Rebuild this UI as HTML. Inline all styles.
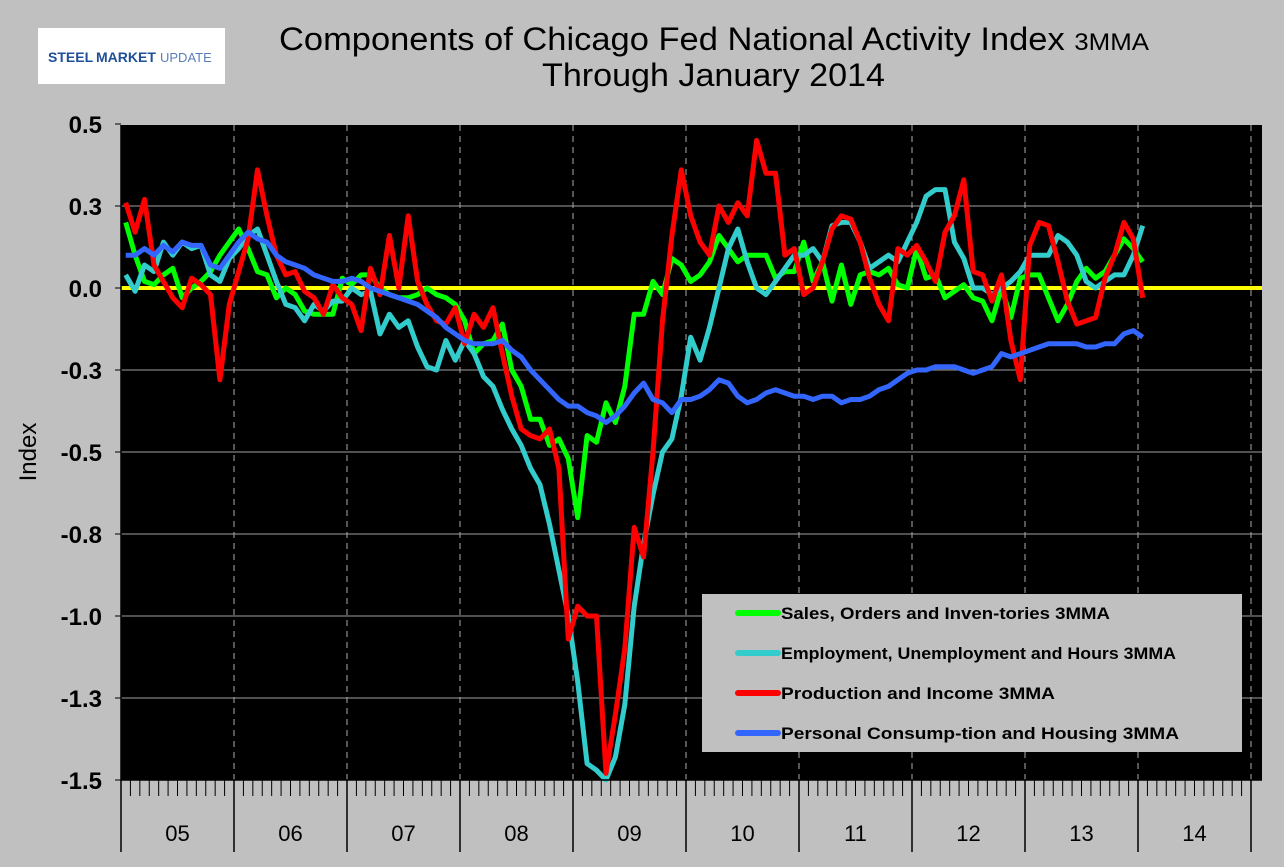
<!DOCTYPE html>
<html><head><meta charset="utf-8"><style>
body{margin:0;background:#c0c0c0;}
svg{display:block;font-family:"Liberation Sans",sans-serif;}
</style></head><body>
<svg id="chart" width="1284" height="867" xmlns="http://www.w3.org/2000/svg">
<rect width="1284" height="867" fill="#c0c0c0"/>
<g>
<rect x="38" y="28" width="187" height="56" fill="#fff"/>
<text x="48" y="62" font-size="14" font-weight="bold" fill="#1f4f9a">STEEL</text>
<text x="96" y="62" font-size="14" font-weight="bold" fill="#1f4f9a">MARKET</text>
<text x="160" y="62" font-size="13" fill="#5a7fb8">UPDATE</text>
</g>
<text x="279" y="50" font-size="32" textLength="870" lengthAdjust="spacingAndGlyphs">Components of Chicago Fed National Activity Index <tspan font-size="24">3MMA</tspan></text>
<text x="542" y="86" font-size="32" textLength="343" lengthAdjust="spacingAndGlyphs">Through January 2014</text>
<rect x="121" y="125" width="1141" height="655" fill="#000"/>
<text transform="translate(36,452) rotate(-90)" text-anchor="middle" font-size="24">Index</text>
<g id="grid"></g><g id="series"></g><g id="axes"></g>
<g>
<rect x="702" y="594" width="540" height="158" fill="#c0c0c0"/>
<g id="legend"></g>
</g>
</svg>
<script>
const years=['05','06','07','08','09','10','11','12','13','14'];
const yTicks=[0.5,0.25,0,-0.25,-0.5,-0.75,-1,-1.25,-1.5];
const yTickLabels=['0.5','0.3','0.0','-0.3','-0.5','-0.8','-1.0','-1.3','-1.5'];
const seriesNames=['Sales, Orders and Inven-tories 3MMA','Employment, Unemployment and Hours 3MMA','Production and Income 3MMA','Personal Consump-tion and Housing 3MMA'];
const sales=[0.20,0.10,0.02,0.01,0.04,0.06,-0.03,0.00,0.02,0.05,0.10,0.14,
0.18,0.12,0.05,0.04,-0.03,0.00,-0.02,-0.07,-0.08,-0.08,-0.08,0.03,
0.01,0.04,0.04,0.00,-0.02,-0.03,-0.03,-0.02,0.00,-0.02,-0.03,-0.05,
-0.10,-0.20,-0.17,-0.16,-0.11,-0.25,-0.30,-0.40,-0.40,-0.48,-0.46,-0.52,
-0.70,-0.45,-0.47,-0.35,-0.41,-0.30,-0.08,-0.08,0.02,-0.02,0.09,0.07,
0.02,0.04,0.08,0.16,0.12,0.08,0.10,0.10,0.10,0.03,0.05,0.05,
0.14,0.02,0.08,-0.04,0.07,-0.05,0.04,0.05,0.04,0.06,0.01,0.00,
0.12,0.03,0.04,-0.03,-0.01,0.01,-0.03,-0.04,-0.10,0.00,-0.09,0.03,
0.04,0.04,-0.03,-0.10,-0.05,0.02,0.06,0.03,0.05,0.10,0.15,0.12,0.08];
const employment=[0.04,-0.01,0.07,0.05,0.14,0.10,0.14,0.12,0.13,0.04,0.02,0.09,
0.12,0.16,0.18,0.10,0.02,-0.05,-0.06,-0.10,-0.05,-0.07,-0.04,-0.04,
0.00,-0.02,-0.01,-0.14,-0.08,-0.12,-0.10,-0.18,-0.24,-0.25,-0.16,-0.22,
-0.16,-0.20,-0.27,-0.30,-0.37,-0.43,-0.48,-0.55,-0.60,-0.72,-0.86,-1.00,
-1.20,-1.45,-1.47,-1.50,-1.43,-1.27,-0.97,-0.78,-0.63,-0.50,-0.46,-0.33,
-0.15,-0.22,-0.12,0.00,0.12,0.18,0.08,0.00,-0.02,0.02,0.06,0.10,
0.10,0.12,0.08,0.19,0.20,0.20,0.14,0.06,0.08,0.10,0.08,0.14,
0.20,0.28,0.30,0.30,0.14,0.09,0.00,0.00,-0.02,0.00,0.02,0.05,
0.10,0.10,0.10,0.16,0.14,0.10,0.02,0.00,0.02,0.04,0.04,0.10,0.19];
const production=[0.26,0.17,0.27,0.07,0.02,-0.03,-0.06,0.03,0.01,-0.02,-0.28,-0.05,
0.05,0.15,0.36,0.22,0.10,0.04,0.05,-0.01,-0.03,-0.08,0.01,-0.03,
-0.05,-0.13,0.06,-0.02,0.16,0.00,0.22,0.02,-0.05,-0.10,-0.11,-0.06,
-0.17,-0.08,-0.12,-0.06,-0.20,-0.33,-0.43,-0.45,-0.46,-0.43,-0.55,-1.07,
-0.97,-1.00,-1.00,-1.48,-1.30,-1.10,-0.73,-0.82,-0.50,-0.10,0.16,0.36,
0.22,0.14,0.10,0.25,0.20,0.26,0.22,0.45,0.35,0.35,0.10,0.12,
-0.02,0.00,0.08,0.18,0.22,0.21,0.14,0.03,-0.05,-0.10,0.12,0.10,
0.13,0.08,0.02,0.17,0.22,0.33,0.05,0.04,-0.04,0.04,-0.16,-0.28,
0.13,0.20,0.19,0.08,-0.04,-0.11,-0.10,-0.09,0.03,0.10,0.20,0.15,-0.03];
const consumption=[0.10,0.10,0.12,0.10,0.13,0.11,0.14,0.13,0.13,0.07,0.06,0.10,
0.14,0.17,0.15,0.14,0.10,0.08,0.07,0.06,0.04,0.03,0.02,0.02,
0.03,0.02,0.00,-0.01,-0.02,-0.03,-0.04,-0.05,-0.07,-0.09,-0.12,-0.14,
-0.16,-0.17,-0.17,-0.17,-0.16,-0.19,-0.21,-0.25,-0.28,-0.31,-0.34,-0.36,
-0.36,-0.38,-0.39,-0.41,-0.39,-0.36,-0.32,-0.29,-0.34,-0.35,-0.38,-0.34,
-0.34,-0.33,-0.31,-0.28,-0.29,-0.33,-0.35,-0.34,-0.32,-0.31,-0.32,-0.33,
-0.33,-0.34,-0.33,-0.33,-0.35,-0.34,-0.34,-0.33,-0.31,-0.30,-0.28,-0.26,
-0.25,-0.25,-0.24,-0.24,-0.24,-0.25,-0.26,-0.25,-0.24,-0.20,-0.21,-0.20,
-0.19,-0.18,-0.17,-0.17,-0.17,-0.17,-0.18,-0.18,-0.17,-0.17,-0.14,-0.13,-0.15];
const colors=['#00ff00','#33cccc','#ff0000','#3366ff'];
const NS='http://www.w3.org/2000/svg';
const X0=121,YW=113,Y0=288,PU=328;
function xPos(i){return X0+(i+0.5)*YW/12;}
function yPos(v){return Y0-v*PU;}
function mk(tag,attrs,parent){const e=document.createElementNS(NS,tag);for(const k in attrs)e.setAttribute(k,attrs[k]);parent.appendChild(e);return e;}
const grid=document.getElementById('grid'),axes=document.getElementById('axes'),sg=document.getElementById('series'),lg=document.getElementById('legend');
yTicks.forEach((t,k)=>{const y=yPos(t);
 if(t!==0&&k>0&&k<yTicks.length-1){const l=mk('line',{x1:X0,x2:1262,y1:y,y2:y,stroke:'#a0a0a0','stroke-width':1},grid);
 
 }
 const tk=mk('line',{x1:X0-6,x2:X0,y1:y,y2:y,stroke:'#000'},axes);
 
 
 const tx=mk('text',{x:102,y:y+9,'text-anchor':'end','font-size':24,'font-weight':'bold'},axes);tx.textContent=yTickLabels[k];
 
 });
years.forEach((yr,k)=>{const x=X0+YW*(k+1);
 const d=mk('line',{x1:x,x2:x,y1:125,y2:780,stroke:'#aaaaaa','stroke-dasharray':'6,5'},grid);
 
 
 const s=mk('line',{x1:x,x2:x,y1:780,y2:852,stroke:'#000','stroke-width':1.5},axes);
 
 
 for(let m=1;m<12;m++){const mx=X0+YW*k+m*YW/12;const t=mk('line',{x1:mx,x2:mx,y1:780,y2:796,stroke:'#000'},axes);
 
 }
 const tx=mk('text',{x:X0+YW*(k+0.5),y:841,'text-anchor':'middle','font-size':22},axes);tx.textContent=yr;
 
 });
const l0=mk('line',{x1:X0,x2:X0,y1:125,y2:852,stroke:'#000','stroke-width':1.5},axes);


const ax=mk('line',{x1:X0,x2:1262,y1:780,y2:780,stroke:'#000','stroke-width':1.5},axes);


const zl=mk('line',{x1:X0,x2:1262,y1:yPos(0),y2:yPos(0),stroke:'#ffff00','stroke-width':4},sg);


const all=[sales,employment,production,consumption];
const snames=['sales-orders-line','employment-line','production-income-line','consumption-housing-line'];
const legW=[329,395,274,398];
all.forEach((arr,s)=>{const pts=arr.map((v,i)=>xPos(i).toFixed(1)+','+yPos(v).toFixed(1)).join(' ');
 const p=mk('polyline',{points:pts,fill:'none',stroke:colors[s],'stroke-width':5,'stroke-linejoin':'round'},sg);
 
 
 const ly=613+s*40;
 const ll=mk('line',{x1:738,x2:778,y1:ly,y2:ly,stroke:colors[s],'stroke-width':6,'stroke-linecap':'round'},lg);
 
 
 const lt=mk('text',{x:781,y:ly+6,'font-size':17,'font-weight':'bold',textLength:legW[s],lengthAdjust:'spacingAndGlyphs'},lg);lt.textContent=seriesNames[s];
 
 });
</script>
</body></html>
